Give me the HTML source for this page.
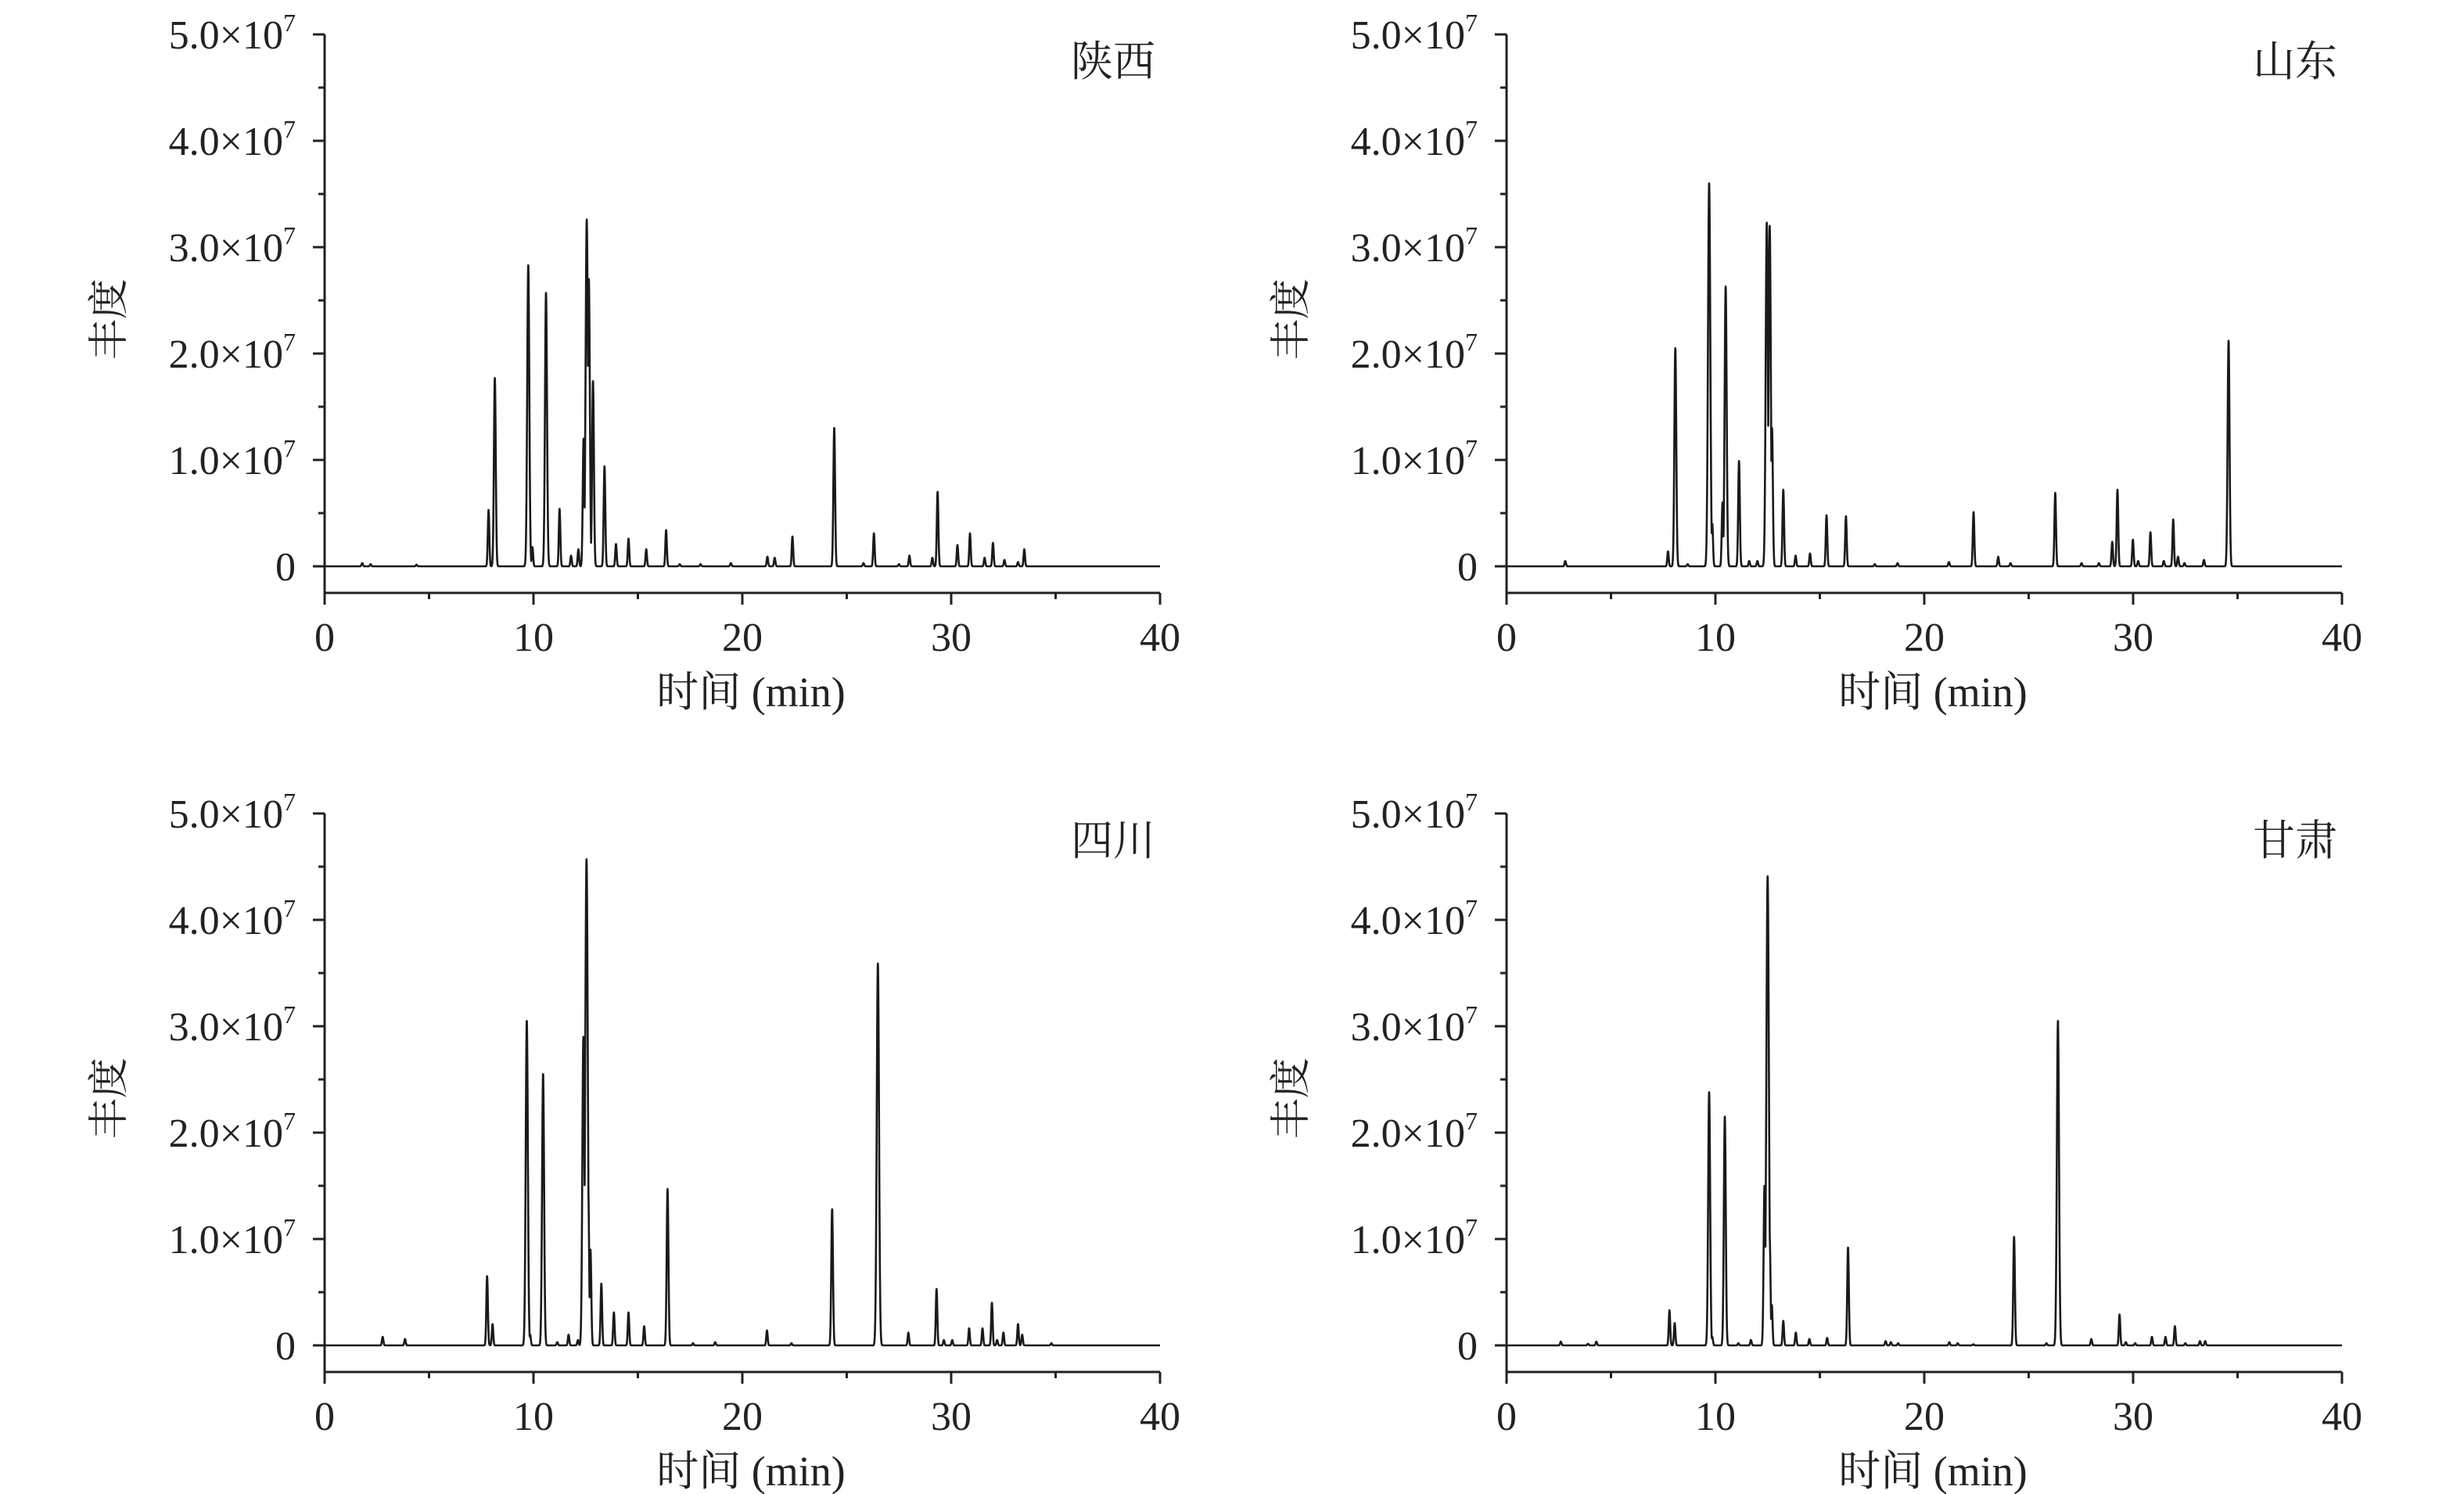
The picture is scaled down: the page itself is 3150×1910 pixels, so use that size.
<!DOCTYPE html>
<html><head><meta charset="utf-8">
<style>
html,body{margin:0;padding:0;background:#fff;}
svg{display:block;}
text{fill:#222;}
.num{font-family:"Liberation Serif","Noto Serif CJK SC",serif;}
.cjk{font-family:"Liberation Serif","Noto Serif CJK SC",serif;}
</style></head>
<body>
<svg id="chart" width="3150" height="1910" viewBox="0 0 3150 1910" xmlns="http://www.w3.org/2000/svg"></svg>
<script>
// Panel titles
const panelTitles = ["陕西", "山东", "四川", "甘肃"];
// Peak data: retention time (min) and abundance (x1e7)
const shaanxiTimes = [1.8,2.2,4.4,7.85,8.15,9.75,9.95,10.6,11.25,11.8,12.15,12.4,12.55,12.65,12.85,13.4,13.95,14.55,15.4,16.35,17.0,18.0,19.45,21.2,21.55,22.4,24.4,25.8,26.3,27.5,28.0,29.1,29.35,30.3,30.9,31.6,32.0,32.55,33.2,33.5];
const shaanxiValues = [0.03,0.02,0.015,0.53,1.77,2.83,0.18,2.57,0.54,0.1,0.16,1.2,3.26,2.7,1.74,0.94,0.21,0.26,0.16,0.34,0.02,0.02,0.03,0.09,0.08,0.28,1.3,0.03,0.31,0.02,0.1,0.08,0.7,0.2,0.31,0.08,0.22,0.06,0.04,0.16];
const shandongTimes = [2.81,7.73,8.08,8.67,9.7,9.85,10.34,10.49,11.13,11.62,12.01,12.46,12.6,12.71,13.25,13.84,14.53,15.32,16.25,17.63,18.72,21.18,22.36,23.54,24.13,26.27,27.53,28.36,29.0,29.25,29.99,30.24,30.83,31.47,31.92,32.15,32.46,33.39,34.57];
const shandongValues = [0.05,0.14,2.05,0.02,3.6,0.4,0.6,2.63,0.99,0.05,0.05,3.23,3.2,1.3,0.72,0.1,0.12,0.48,0.47,0.02,0.03,0.04,0.51,0.09,0.03,0.69,0.03,0.03,0.23,0.72,0.25,0.05,0.32,0.05,0.44,0.09,0.03,0.06,2.12];
const sichuanTimes = [2.78,3.85,7.78,8.04,9.68,9.84,10.46,11.14,11.68,12.13,12.39,12.54,12.62,12.73,13.25,13.85,14.55,15.3,16.42,17.64,18.7,21.18,22.35,24.3,26.49,27.95,29.3,29.65,30.05,30.86,31.5,31.95,32.2,32.5,33.2,33.4,34.8];
const sichuanValues = [0.08,0.06,0.65,0.2,3.05,0.1,2.55,0.03,0.1,0.05,2.9,4.57,1.5,0.9,0.58,0.31,0.31,0.18,1.47,0.02,0.03,0.14,0.02,1.28,3.59,0.12,0.53,0.05,0.05,0.16,0.16,0.4,0.05,0.12,0.2,0.1,0.02];
const gansuTimes = [2.6,3.9,4.3,7.8,8.05,9.7,9.85,10.45,11.1,11.7,12.35,12.5,12.6,12.7,13.25,13.85,14.5,15.35,16.35,18.15,18.4,18.75,21.2,21.6,22.35,24.3,25.85,26.4,28.0,29.35,29.65,30.1,30.9,31.55,32.0,32.5,33.2,33.45];
const gansuValues = [0.035,0.015,0.035,0.33,0.21,2.38,0.08,2.15,0.02,0.05,1.5,4.41,1.0,0.38,0.23,0.12,0.06,0.07,0.92,0.04,0.03,0.02,0.03,0.02,0.01,1.02,0.02,3.05,0.06,0.29,0.03,0.02,0.08,0.08,0.18,0.02,0.04,0.04];
const xTicks = [0,10,20,30,40];
const yTickLabels = ["0","1.0×10","2.0×10","3.0×10","4.0×10","5.0×10"];

const NS = "http://www.w3.org/2000/svg";
const svg = document.getElementById("chart");
function mk(tag, attrs, parent){
  const e = document.createElementNS(NS, tag);
  for (const k in attrs) e.setAttribute(k, attrs[k]);
  (parent||svg).appendChild(e);
  return e;
}
const panels = [
  {title:panelTitles[0], t:shaanxiTimes, v:shaanxiValues, x0:415, top:44},
  {title:panelTitles[1], t:shandongTimes, v:shandongValues, x0:1926, top:44},
  {title:panelTitles[2], t:sichuanTimes, v:sichuanValues, x0:415, top:1040},
  {title:panelTitles[3], t:gansuTimes, v:gansuValues, x0:1926, top:1040}
];
const W = 1068, PER = 136;
panels.forEach((p, pi) => {
  const g = mk("g", {});
  
  
  const zero = p.top + 5*PER, xaxisY = zero + 34;
  const xs = t => p.x0 + t/40*W;
  const ys = v => zero - v*PER;
  const ya = mk("line", {x1:p.x0, y1:p.top, x2:p.x0, y2:xaxisY+15, stroke:"#222", "stroke-width":3}, g);
  
  
  const xa = mk("line", {x1:p.x0, y1:xaxisY, x2:p.x0+W, y2:xaxisY, stroke:"#222", "stroke-width":3}, g);
  
  
  for (let i=0;i<=10;i++){
    const v = i/2, y = ys(v), major = i%2===0;
    mk("line", {x1:p.x0-(major?15:8), y1:y, x2:p.x0, y2:y, stroke:"#222", "stroke-width":3}, g);
    if (major){
      const tx = mk("text", {x:p.x0-37, y:y+18, "text-anchor":"end", "font-size":52, class:"num"}, g);
      
      
      tx.textContent = yTickLabels[i/2];
      if (i>0){
        const sp = mk("tspan", {dy:-22, "font-size":32}, tx);
        sp.textContent = "7";
      }
    }
  }
  for (let t=0;t<=40;t+=5){
    const major = t%10===0;
    mk("line", {x1:xs(t), y1:xaxisY, x2:xs(t), y2:xaxisY+(major?15:8), stroke:"#222", "stroke-width":3}, g);
  }
  xTicks.forEach(t => {
    const tx = mk("text", {x:xs(t), y:xaxisY+74, "text-anchor":"middle", "font-size":52, class:"num"}, g);
    
    
    tx.textContent = String(t);
  });
  const xl = mk("text", {x:p.x0+545, y:xaxisY+145, "text-anchor":"middle", "font-size":54, class:"cjk"}, g);
  
  
  xl.textContent = "时间 (min)";
  const cx = p.x0-258, cy = p.top+364;
  const yl = mk("text", {x:cx, y:cy, "text-anchor":"middle", "font-size":52, class:"cjk", transform:`rotate(-90 ${cx} ${cy})`}, g);
  
  
  yl.textContent = "丰度";
  const tt = mk("text", {x:p.x0+W-6, y:p.top+53, "text-anchor":"end", "font-size":54, class:"cjk"}, g);
  
  
  tt.textContent = p.title;
  let d = "";
  for (let k=0;k<=8000;k++){
    const t = k*0.005;
    let s = 0;
    for (let j=0;j<p.t.length;j++){
      const sig = 0.033 + 0.006*p.v[j];
      const dt = t - p.t[j];
      if (Math.abs(dt) < 6*sig) s = Math.max(s, p.v[j]*Math.exp(-dt*dt/(2*sig*sig)));
    }
    d += (k===0?"M":"L") + xs(t).toFixed(2) + " " + ys(s).toFixed(2);
  }
  const path = mk("path", {d:d, fill:"none", stroke:"#1a1a1a", "stroke-width":2.6, "stroke-linejoin":"round"}, g);
  
  
});
</script>
</body></html>
